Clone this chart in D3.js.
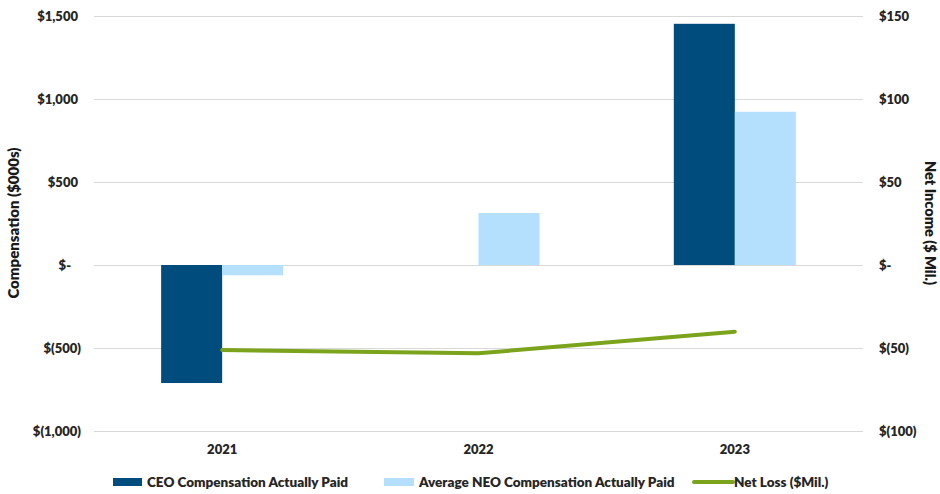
<!DOCTYPE html>
<html>
<head>
<meta charset="utf-8">
<script src="https://cdn.jsdelivr.net/npm/d3@7"></script>
<style>
  html, body { margin: 0; padding: 0; background: #fff; }
  svg { display: block; font-family: Lato, "Open Sans", sans-serif; }
</style>
</head>
<body>
<svg id="chart" width="940" height="494"></svg>
<script>
const years = ["2021", "2022", "2023"];
const ceoComp = [-711, 0, 1453];
const neoComp = [-62, 313, 923];
const netLoss = [-51.2, -53.2, -40.2];
const leftTicks = [-1000, -500, 0, 500, 1000, 1500];
const rightTicks = [-100, -50, 0, 50, 100, 150];
const seriesNames = ["CEO Compensation Actually Paid", "Average NEO Compensation Actually Paid", "Net Loss ($Mil.)"];
const colors = ["#004c7d", "#b4e0fd", "#7ca31c"];

const svg = d3.select("#chart");
const plot = { left: 94, right: 863, top: 16, bottom: 431 };

const x = d3.scaleBand().domain(years).range([plot.left, plot.right]).paddingInner(0).paddingOuter(0);
const yL = d3.scaleLinear().domain([-1000, 1500]).range([plot.bottom, plot.top]);
const yR = d3.scaleLinear().domain([-100, 150]).range([plot.bottom, plot.top]);

const fmtL = v => v === 0 ? "$-" : (v < 0 ? "$(" + d3.format(",")(-v) + ")" : "$" + d3.format(",")(v));
const fmtR = v => v === 0 ? "$-" : (v < 0 ? "$(" + (-v) + ")" : "$" + v);

const W = 800;

// gridlines
svg.append("g").selectAll("line").data(leftTicks).join("line")
  .attr("x1", plot.left).attr("x2", plot.right)
  .attr("y1", d => Math.round(yL(d)) + 0.5).attr("y2", d => Math.round(yL(d)) + 0.5)
  .attr("stroke", "#d9d9d9").attr("stroke-width", 1);

// left axis labels
const leftAxis = d3.axisLeft(yL).tickValues(leftTicks).tickFormat(fmtL).tickSize(0).tickPadding(0);
const gL = svg.append("g").attr("transform", "translate(78,0)").call(leftAxis);
gL.select(".domain").remove();
gL.selectAll("text")
  .attr("font-family", "Lato, sans-serif").attr("font-weight", W).attr("font-size", 13)
  .attr("fill", "#262626")
  .attr("dx", d => d < 0 ? 3 : (d === 0 ? -7 : 0));

// right axis labels
const rightAxis = d3.axisRight(yR).tickValues(rightTicks).tickFormat(fmtR).tickSize(0).tickPadding(0);
const gR = svg.append("g").attr("transform", "translate(879,0)").call(rightAxis);
gR.select(".domain").remove();
gR.selectAll("text")
  .attr("font-family", "Lato, sans-serif").attr("font-weight", W).attr("font-size", 13)
  .attr("fill", "#262626");

// bars
const barW = x.bandwidth() / 4.2;
const bars = svg.append("g");
years.forEach((yr, i) => {
  const cx = x(yr) + x.bandwidth() / 2;
  [ceoComp[i], neoComp[i]].forEach((v, j) => {
    if (v === 0) return;
    bars.append("rect")
      .attr("x", j === 0 ? cx - barW : cx)
      .attr("width", barW)
      .attr("y", Math.min(yL(v), yL(0)))
      .attr("height", Math.abs(yL(v) - yL(0)))
      .attr("fill", colors[j]);
  });
});

// net loss line
const line = d3.line()
  .x((d, i) => x(years[i]) + x.bandwidth() / 2)
  .y(d => yR(d));
svg.append("path").datum(netLoss)
  .attr("d", line)
  .attr("fill", "none").attr("stroke", colors[2]).attr("stroke-width", 4)
  .attr("stroke-linecap", "round").attr("stroke-linejoin", "round");

// x axis labels
const xAxis = d3.axisBottom(x).tickSize(0).tickPadding(0);
const gX = svg.append("g").attr("transform", "translate(0,445)").call(xAxis);
gX.select(".domain").remove();
gX.selectAll("text")
  .attr("font-family", "Lato, sans-serif").attr("font-weight", W).attr("font-size", 13)
  .attr("fill", "#262626");

// axis titles
svg.append("text")
  .attr("transform", "translate(19,223) rotate(-90)")
  .attr("text-anchor", "middle")
  .attr("font-weight", W).attr("font-size", 15).attr("fill", "#1a1a1a")
  .text("Compensation ($000s)");
svg.append("text")
  .attr("transform", "translate(925,223) rotate(90)")
  .attr("text-anchor", "middle")
  .attr("font-weight", W).attr("font-size", 14.5).attr("fill", "#1a1a1a")
  .text("Net Income ($ Mil.)");

// legend
const legend = svg.append("g").attr("font-weight", W).attr("font-size", 13.5).attr("fill", "#262626");
const legItems = [
  { sx: 113, tx: 147, type: "rect" },
  { sx: 384, tx: 419, type: "rect" },
  { sx: 692, tx: 734, type: "line" }
];
legItems.forEach((it, i) => {
  if (it.type === "rect") {
    legend.append("rect").attr("x", it.sx).attr("y", 478).attr("width", it.tx - it.sx - 5).attr("height", 8).attr("fill", colors[i]);
  } else {
    legend.append("line").attr("x1", it.sx + 2).attr("x2", it.tx - 1).attr("y1", 482).attr("y2", 482)
      .attr("stroke", colors[i]).attr("stroke-width", 4).attr("stroke-linecap", "round");
  }
  legend.append("text").attr("x", it.tx).attr("y", 482).attr("dy", "0.35em").text(seriesNames[i]);
});
</script>
</body>
</html>
